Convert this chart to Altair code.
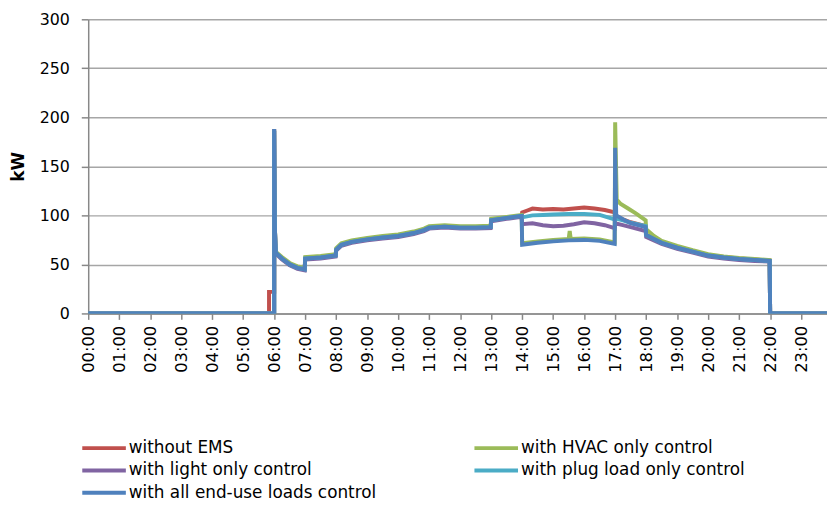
import altair as alt
import pandas as pd

SERIES = ["without EMS", "with HVAC only control", "with light only control",
          "with plug load only control", "with all end-use loads control"]
COLORS = ["#C0504D", "#9BBB59", "#8064A2", "#4BACC6", "#4F81BD"]

HOUR_TICKS = list(range(24))
Y_TICKS = [0, 50, 100, 150, 200, 250, 300]

# ---- without EMS ----
t_none = ["00:00", "05:50", "05:50", "06:00", "06:00", "06:01", "06:03", "06:15", "06:30", "06:45", "06:59",
          "07:00", "07:30", "07:59", "08:00", "08:10", "08:30", "09:00", "09:30", "10:00", "10:30", "10:50",
          "11:00", "11:30", "12:00", "12:30", "12:59", "13:00", "13:30", "13:59",
          "14:00", "14:10", "14:20", "14:40", "15:00", "15:20", "15:40", "16:00", "16:20", "16:40", "16:59",
          "17:00", "17:15", "17:30", "17:59", "18:00", "18:15", "18:30", "19:00", "19:30", "20:00", "20:30",
          "21:00", "21:30", "21:59", "22:00", "23:59"]
v_none = [0, 0, 22, 22, 188, 92, 62, 56, 50, 46.5, 45,
          56, 57, 59, 65, 70, 73, 75.5, 77.5, 79, 82, 85,
          87.5, 88.5, 87.5, 87.5, 88, 95, 97.5, 99.5,
          103, 105, 107, 106, 106.5, 106, 107, 108, 107, 105.5, 103,
          100, 96, 93, 89, 80.5, 76.5, 72.5, 67.5, 63.5, 59.5, 57.5,
          56, 55, 54, 0, 0]

# ---- with HVAC only control ----
t_hvac = ["00:00", "06:00", "06:00", "06:01", "06:03", "06:15", "06:30", "06:45", "06:59",
          "07:00", "07:30", "07:59", "08:00", "08:10", "08:30", "09:00", "09:30", "10:00", "10:30", "10:50",
          "11:00", "11:30", "12:00", "12:30", "12:59", "13:00", "13:30", "13:59",
          "14:00", "14:30", "15:00", "15:30", "15:32", "15:34", "16:00", "16:30", "16:59",
          "17:00", "17:03", "17:10", "17:25", "17:40", "17:59", "18:00", "18:15", "18:30", "19:00", "19:30",
          "20:00", "20:30", "21:00", "21:30", "21:59", "22:00", "23:59"]
v_hvac = [0, 0, 186, 93, 63, 57.5, 51.5, 48, 46.5,
          57.5, 58.5, 60.5, 66.5, 71.5, 74.5, 77, 79, 80.5, 83.5, 86.5,
          89, 90, 89, 89, 89.5, 96.5, 98.5, 100.5,
          71.5, 73.5, 75, 76, 84, 76, 76.5, 75.5, 72.5,
          195, 116, 112, 107, 102, 95, 86, 79, 74, 69, 64.5,
          60.5, 58, 56.5, 55.5, 54.5, 0, 0]

# ---- with light only control ----
t_light = ["00:00", "06:00", "06:00", "06:01", "06:03", "06:15", "06:30", "06:45", "06:59",
           "07:00", "07:30", "07:59", "08:00", "08:10", "08:30", "09:00", "09:30", "10:00", "10:30", "10:50",
           "11:00", "11:30", "12:00", "12:30", "12:59", "13:00", "13:30", "13:59",
           "14:00", "14:20", "14:40", "15:00", "15:20", "15:40", "16:00", "16:20", "16:40", "16:59",
           "17:00", "17:15", "17:30", "17:59", "18:00", "18:15", "18:30", "19:00", "19:30", "20:00", "20:30",
           "21:00", "21:30", "21:59", "22:00", "23:59"]
v_light = [0, 0, 186, 91, 61, 55, 49, 45.5, 44,
           55, 56, 58, 64, 69, 72, 74.5, 76.5, 78, 81, 84,
           86.5, 87.5, 86.5, 86.5, 87, 94, 96.5, 98.5,
           91, 92, 90, 89, 89.5, 91, 93, 92, 90, 87,
           92, 90, 88, 84, 78, 74.5, 71, 66, 62, 58, 56,
           54.5, 53.5, 53, 0, 0]

# ---- with plug load only control ----
t_plug = ["00:00", "06:00", "06:00", "06:01", "06:03", "06:15", "06:30", "06:45", "06:59",
          "07:00", "07:30", "07:59", "08:00", "08:10", "08:30", "09:00", "09:30", "10:00", "10:30", "10:50",
          "11:00", "11:30", "12:00", "12:30", "12:59", "13:00", "13:30", "13:59",
          "14:00", "14:20", "14:40", "15:00", "15:30", "16:00", "16:30", "16:59",
          "17:00", "17:15", "17:30", "17:59", "18:00", "18:15", "18:30", "19:00", "19:30", "20:00", "20:30",
          "21:00", "21:30", "21:59", "22:00", "23:59"]
v_plug = [0, 0, 187, 92, 62, 56, 50, 46.5, 45,
          56, 57, 59, 65, 70, 73, 75.5, 77.5, 79, 82, 85,
          87.5, 88.5, 87.5, 87.5, 88, 95, 97.5, 99.5,
          98, 100, 100.5, 101, 101.5, 101.5, 100.5, 96,
          97, 95, 92.5, 89, 80, 76, 72, 67, 63, 59, 57,
          55.5, 54.5, 53.5, 0, 0]

# ---- with all end-use loads control ----
t_all = ["00:00", "06:00", "06:00", "06:01", "06:03", "06:15", "06:30", "06:45", "06:59",
         "07:00", "07:30", "07:59", "08:00", "08:10", "08:30", "09:00", "09:30", "10:00", "10:30", "10:50",
         "11:00", "11:30", "12:00", "12:30", "12:59", "13:00", "13:30", "13:59",
         "14:00", "14:30", "15:00", "15:30", "16:00", "16:30", "16:59",
         "17:00", "17:02", "17:15", "17:30", "17:59", "18:00", "18:15", "18:30", "19:00", "19:30",
         "20:00", "20:30", "21:00", "21:30", "21:59", "22:00", "23:59"]
v_all = [0, 0, 188, 92, 62, 56, 50, 46.5, 45,
         56, 57, 59, 65, 70, 73, 75.5, 77.5, 79, 82, 85,
         87.5, 88.5, 87.5, 87.5, 88, 95, 97.5, 99.5,
         70, 72, 73.5, 74.5, 75, 74, 71,
         169, 100, 96, 92, 88, 80, 76, 72, 67, 63,
         59, 57, 55.5, 54.5, 53.5, 0, 0]

TIMES = [t_none, t_hvac, t_light, t_plug, t_all]
VALUES = [v_none, v_hvac, v_light, v_plug, v_all]


def to_hours(s):
    hh, mm = s.split(":")
    return int(hh) + int(mm) / 60.0


rows = []
i = 0
for name, ts, vs in zip(SERIES, TIMES, VALUES):
    for t, v in zip(ts, vs):
        rows.append({"series": name, "h": to_hours(t), "kW": v, "i": i})
        i += 1
df = pd.DataFrame(rows)

FONT = "DejaVu Sans"

chart = alt.Chart(df).mark_line(strokeWidth=4, clip=True).encode(
    x=alt.X("h:Q",
            scale=alt.Scale(domain=[0, 23.834], nice=False, zero=False),
            axis=alt.Axis(values=HOUR_TICKS, title=None, grid=False,
                          labelExpr="(datum.value < 10 ? '0' : '') + datum.value + ':00'",
                          labelAngle=270, labelAlign="right", labelBaseline="middle",
                          labelFontSize=16.5, labelPadding=6, tickSize=6,
                          labelOverlap=False)),
    y=alt.Y("kW:Q",
            scale=alt.Scale(domain=[0, 300], nice=False),
            axis=alt.Axis(values=Y_TICKS, title="kW", titleFontWeight="bold",
                          titleFontSize=17, titlePadding=12, labelFontSize=16,
                          labelPadding=12, tickSize=7, grid=True)),
    color=alt.Color("series:N",
                    scale=alt.Scale(domain=SERIES, range=COLORS),
                    legend=alt.Legend(title=None, orient="none", legendX=-8, legendY=423,
                                      direction="horizontal",
                                      columns=2, columnPadding=97, rowPadding=2.5,
                                      clipHeight=20,
                                      symbolType="stroke", symbolSize=1936, symbolStrokeWidth=4,
                                      labelFontSize=17, labelLimit=400, labelOffset=1,
                                      padding=0)),
    order=alt.Order("i:Q"),
).properties(
    width=746, height=297,
    autosize=alt.AutoSizeParams(type="none"),
    padding={"left": 81, "top": 9, "right": 0, "bottom": 188},
).configure_view(stroke=None).configure_axis(
    labelFont=FONT, titleFont=FONT, labelColor="black", titleColor="black",
    domainColor="#888888", tickColor="#888888", gridColor="#a6a6a6",
    domainWidth=1.5, tickWidth=1.5, gridWidth=1.5,
).configure_legend(labelFont=FONT, labelColor="black")

chart.save("out.html", embed_options={"renderer": "svg", "actions": False})
